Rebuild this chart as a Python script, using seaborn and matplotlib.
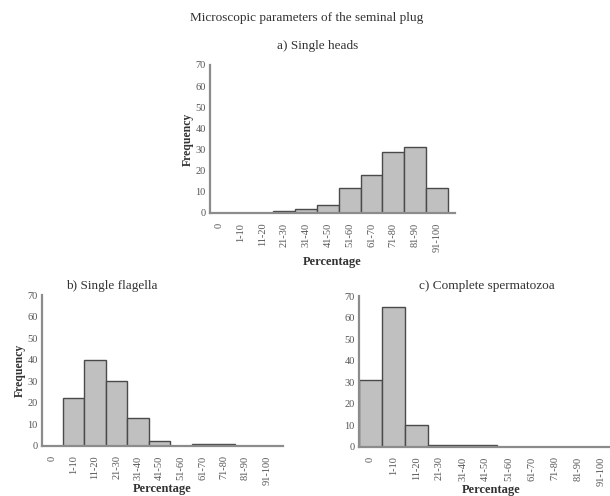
import matplotlib.pyplot as plt
import seaborn as sns
import pandas as pd
import numpy as np

sns.set_style("white")
plt.rcParams["font.family"] = ["Liberation Serif", "DejaVu Serif"]

categories = ["0", "1-10", "11-20", "21-30", "31-40", "41-50",
              "51-60", "61-70", "71-80", "81-90", "91-100"]
single_heads = [0, 0, 0, 1, 2, 4, 12, 18, 29, 31, 12]
single_flagella = [0, 22, 40, 30, 13, 2, 0, 1, 1, 0, 0]
complete_sperm = [31, 65, 10, 1, 1, 1, 0, 0, 0, 0, 0]

BAR = "#c0c0c0"
EDGE = "#4a4a4a"
SPINE = "#8c8c8c"

fig = plt.figure(figsize=(6.1, 4.96), dpi=100)


def draw_panel(rect, values, xlim, ylabel=True, xlabelpad=3):
    ax = fig.add_axes(rect)
    df = pd.DataFrame({"Percentage": categories, "Frequency": values})
    sns.barplot(data=df, x="Percentage", y="Frequency", color=BAR,
                saturation=1, width=1.0, edgecolor=EDGE, linewidth=1.0, ax=ax)
    ax.set_ylim(0, 70)
    ax.set_xlim(*xlim)
    ax.set_yticks(np.arange(0, 71, 10))
    ax.tick_params(axis="y", labelsize=7.5, length=2.5, width=0.8,
                   color=SPINE, pad=0.5, colors="#555555")
    ax.tick_params(axis="x", which="major", labelsize=7.5, length=0,
                   pad=7, colors="#555555", labelrotation=90)
    ax.set_xticks(np.arange(len(categories)) + 0.5, minor=True)
    ax.tick_params(axis="x", which="minor", length=2, width=0.8,
                   color=SPINE, direction="in")
    for side in ["top", "right"]:
        ax.spines[side].set_visible(False)
    for side in ["left", "bottom"]:
        ax.spines[side].set_color(SPINE)
        ax.spines[side].set_linewidth(1.6)
    ax.set_xlabel("Percentage", fontsize=9, fontweight="bold",
                  color="#333333", labelpad=xlabelpad)
    if ylabel:
        ax.set_ylabel("Frequency", fontsize=8.5, fontweight="bold",
                      color="#333333", labelpad=1)
    else:
        ax.set_ylabel("")
    return ax


draw_panel([0.344, 0.5706, 0.402, 0.2984], single_heads, (-0.41, 10.83),
           xlabelpad=3)
draw_panel([0.0689, 0.1014, 0.395, 0.3036], single_flagella, (-0.47, 10.74),
           xlabelpad=-1)
draw_panel([0.5885, 0.0994, 0.432, 0.3038], complete_sperm, (-0.5, 10.95),
           ylabel=False, xlabelpad=-1.5)

fig.text(0.502, 0.963, "Microscopic parameters of the seminal plug",
         ha="center", va="center", fontsize=9.5, color="#333333")
fig.text(0.521, 0.907, "a) Single heads", ha="center", va="center",
         fontsize=9.5, color="#333333")
fig.text(0.184, 0.423, "b) Single flagella", ha="center", va="center",
         fontsize=9.5, color="#333333")
fig.text(0.798, 0.423, "c) Complete spermatozoa", ha="center", va="center",
         fontsize=9.5, color="#333333")

fig.savefig("out.png", dpi=100)
